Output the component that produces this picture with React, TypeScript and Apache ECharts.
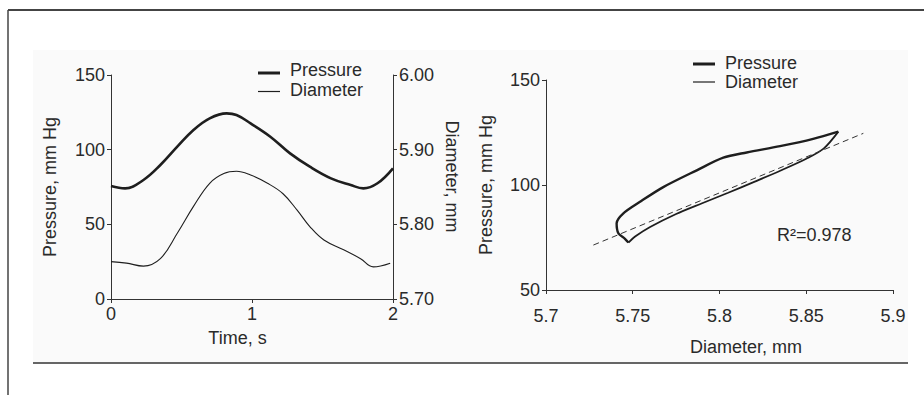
import React, { useEffect, useRef } from "react";
import * as echarts from "echarts";

// ---- Left panel: time course ----
const timeTicks = [0, 1, 2];
const pressureTime = [0, 0.1, 0.23, 0.35, 0.47, 0.585, 0.7, 0.82, 0.89, 0.99, 1.13, 1.27, 1.41, 1.56, 1.7, 1.79, 1.89, 2.0];
const pressureValues = [75.7, 74.1, 79.7, 89.7, 102, 113.2, 121, 124.3, 123.2, 117.6, 108.7, 97.5, 88.6, 80.8, 76.3, 74.1, 77.5, 87.5];
const diameterTime = [0, 0.11, 0.23, 0.35, 0.47, 0.585, 0.7, 0.8, 0.89, 0.99, 1.11, 1.22, 1.32, 1.41, 1.51, 1.65, 1.77, 1.86, 1.98];
const diameterValues = [5.75, 5.748, 5.744, 5.754, 5.788, 5.824, 5.855, 5.868, 5.871, 5.866, 5.855, 5.841, 5.819, 5.797, 5.779, 5.766, 5.754, 5.743, 5.748];
const pressureTicks = [0, 50, 100, 150];
const diameterTicks = [5.7, 5.8, 5.9, 6.0];

// ---- Right panel: pressure-diameter loop ----
const loopUpperDiameter = [5.8685, 5.854, 5.8349, 5.8157, 5.8022, 5.7869, 5.7676, 5.7542, 5.7446, 5.7407, 5.7417, 5.7455, 5.7475];
const loopUpperPressure = [125.4, 122, 118.5, 115.5, 113, 107, 99, 92, 86.5, 81.8, 77.0, 74.4, 72.6];
const loopLowerDiameter = [5.7475, 5.752, 5.76, 5.775, 5.79, 5.805, 5.82, 5.835, 5.85, 5.86, 5.8685];
const loopLowerPressure = [72.6, 75.8, 80.0, 86.2, 91.3, 96.3, 101.5, 106.8, 112.5, 117.3, 125.4];
const fitDiameter = [5.7273, 5.8829];
const fitPressure = [71.4, 124.6];
const loopXTicks = [5.7, 5.75, 5.8, 5.85, 5.9];
const loopYTicks = [50, 100, 150];
const rSquaredText = "R\u00b2=0.978";
const legendNames = ["Pressure", "Diameter"];

const FONT = '"Liberation Sans", Arial, sans-serif';
const INK = "#1e1e1e";
const TXT = "#2a2a2a";

const zip = (a: number[], b: number[]) => a.map((v, i) => [v, b[i]]);

export default function App() {
  const ref = useRef<HTMLDivElement>(null);
  useEffect(() => {
    if (!ref.current) return;
    const chart = echarts.init(ref.current, undefined, { renderer: "svg" });
    const axisLine = { show: true, lineStyle: { color: "#333", width: 1 } };
    const axisTick = { show: true, length: 4, lineStyle: { color: "#333" } };
    const label = { color: TXT, fontFamily: FONT, fontSize: 18 };
    const nameStyle = { color: TXT, fontFamily: FONT, fontSize: 18 };

    const legendBlock = (x: number, y1: number, y2: number, ty1: number, ty2: number) => [
      { type: "line", shape: { x1: x, y1, x2: x + 22, y2: y1 }, style: { stroke: INK, lineWidth: 3 } },
      { type: "line", shape: { x1: x, y1: y2, x2: x + 22, y2 }, style: { stroke: INK, lineWidth: 1.2 } },
      { type: "text", x: x + 32, y: ty1, style: { text: legendNames[0], fill: TXT, font: `18px ${FONT}`, verticalAlign: "middle" } },
      { type: "text", x: x + 32, y: ty2, style: { text: legendNames[1], fill: TXT, font: `18px ${FONT}`, verticalAlign: "middle" } },
    ];

    chart.setOption({
      animation: false,
      backgroundColor: "#ffffff",
      grid: [
        { left: 111, top: 75, width: 282, height: 224 },
        { left: 546, top: 80, width: 347, height: 210 },
      ],
      xAxis: [
        {
          gridIndex: 0, type: "value", min: timeTicks[0], max: timeTicks[timeTicks.length - 1], interval: 1,
          axisLine, axisTick, splitLine: { show: false },
          axisLabel: { ...label, margin: 6 },
          name: "Time, s", nameLocation: "middle", nameGap: 30,
          nameTextStyle: { ...nameStyle, padding: [0, 29, 0, 0] },
        },
        {
          gridIndex: 1, type: "value", min: loopXTicks[0], max: loopXTicks[loopXTicks.length - 1], interval: 0.05,
          axisLine, axisTick, splitLine: { show: false },
          axisLabel: { ...label, margin: 17, formatter: (v: number) => String(+v.toFixed(2)) },
          name: "Diameter, mm", nameLocation: "middle", nameGap: 48,
          nameTextStyle: { ...nameStyle, padding: [0, 0, 0, 53] },
        },
      ],
      yAxis: [
        {
          gridIndex: 0, type: "value", min: pressureTicks[0], max: pressureTicks[pressureTicks.length - 1], interval: 50,
          axisLine, axisTick, splitLine: { show: false },
          axisLabel: { ...label, margin: 6 },
          name: "Pressure, mm Hg", nameLocation: "middle", nameGap: 52, nameTextStyle: nameStyle,
        },
        {
          gridIndex: 0, type: "value", position: "right", min: diameterTicks[0], max: diameterTicks[diameterTicks.length - 1], interval: 0.1,
          axisLine, axisTick, splitLine: { show: false },
          axisLabel: { ...label, margin: 6, formatter: (v: number) => v.toFixed(2) },
          name: "Diameter, mm", nameLocation: "middle", nameGap: 50, nameRotate: -90,
          nameTextStyle: { ...nameStyle, padding: [0, 21, 0, 0] },
        },
        {
          gridIndex: 1, type: "value", min: loopYTicks[0], max: loopYTicks[loopYTicks.length - 1], interval: 50,
          axisLine, axisTick, splitLine: { show: false },
          axisLabel: { ...label, margin: 6 },
          name: "Pressure, mm Hg", nameLocation: "middle", nameGap: 51, nameTextStyle: nameStyle,
        },
      ],
      series: [
        {
          name: "Pressure", type: "line", xAxisIndex: 0, yAxisIndex: 0, symbol: "none", smooth: 0.4,
          data: zip(pressureTime, pressureValues), lineStyle: { color: INK, width: 2.6 },
        },
        {
          name: "Diameter", type: "line", xAxisIndex: 0, yAxisIndex: 1, symbol: "none", smooth: 0.4,
          data: zip(diameterTime, diameterValues), lineStyle: { color: INK, width: 1.1 },
        },
        {
          name: "Pressure", type: "line", xAxisIndex: 1, yAxisIndex: 2, symbol: "none", smooth: 0.3,
          data: zip(loopUpperDiameter, loopUpperPressure), lineStyle: { color: INK, width: 2.4 },
        },
        {
          name: "Diameter", type: "line", xAxisIndex: 1, yAxisIndex: 2, symbol: "none", smooth: 0.3,
          data: zip(loopLowerDiameter, loopLowerPressure), lineStyle: { color: INK, width: 1.8 },
        },
        {
          name: "Fit", type: "line", xAxisIndex: 1, yAxisIndex: 2, symbol: "none",
          data: zip(fitDiameter, fitPressure), lineStyle: { color: "#333", width: 1, type: [6, 4] },
        },
      ],
      graphic: [
        { type: "rect", z: -10, shape: { x: 33, y: 50, width: 875, height: 312 }, style: { fill: "#fafafa" } },
        { type: "line", shape: { x1: 8, y1: 10, x2: 924, y2: 10 }, style: { stroke: "#444", lineWidth: 2 } },
        { type: "line", shape: { x1: 8, y1: 10, x2: 8, y2: 395 }, style: { stroke: "#444", lineWidth: 1.5 } },
        { type: "line", shape: { x1: 33, y1: 363, x2: 908, y2: 363 }, style: { stroke: "#333", lineWidth: 1.5 } },
        ...legendBlock(258, 73, 91.5, 70, 90),
        ...legendBlock(693, 64, 82, 63, 82),
        { type: "text", x: 777, y: 235, style: { text: rSquaredText, fill: TXT, font: `18px ${FONT}`, verticalAlign: "middle" } },
      ],
    });
    return () => chart.dispose();
  }, []);
  return <div ref={ref} style={{ position: "fixed", left: 0, top: 0, width: 924, height: 395 }} />;
}
